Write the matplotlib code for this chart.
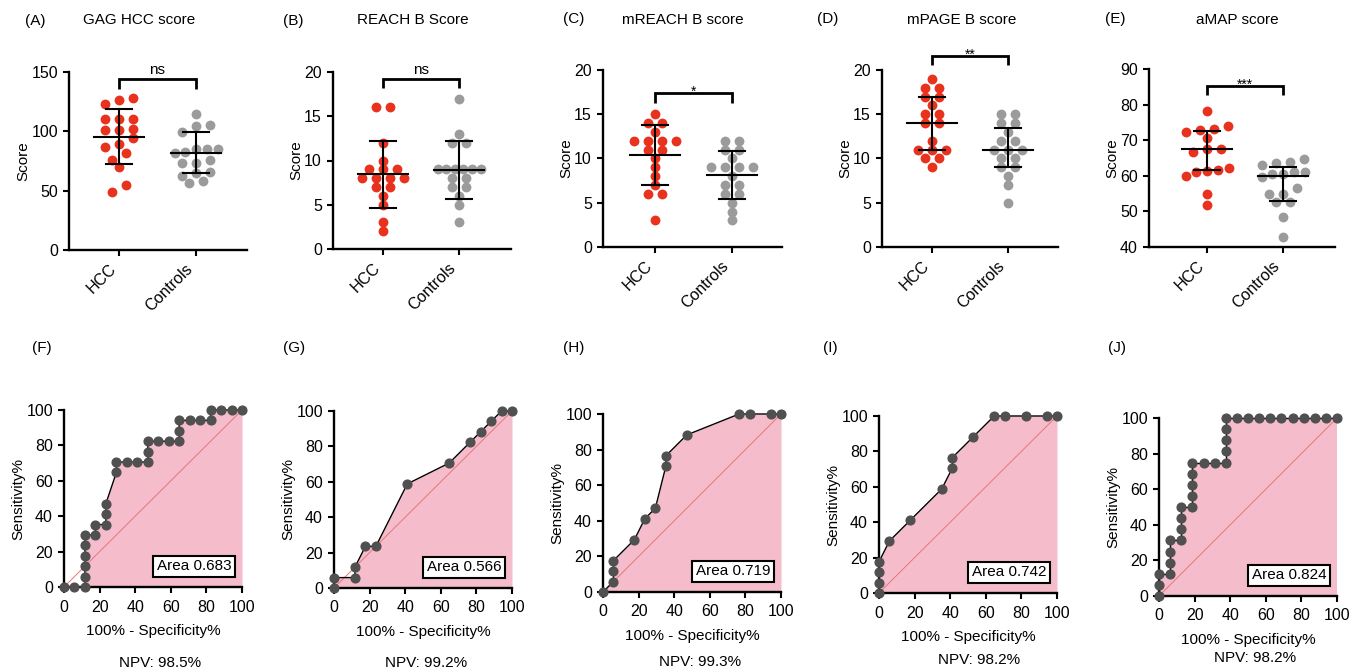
import matplotlib
matplotlib.use("Agg")
from matplotlib import pyplot as plt
import numpy as np

plt.rcParams["font.family"] = ["Liberation Sans", "DejaVu Sans"]
plt.rcParams["font.size"] = 11

W, H = 1358, 671
RED = "#E8321E"
GREY = "#9B9B9B"
PINK = "#F5BCCB"
DOT = "#505050"
DIAG = "#E8767A"

groups = ["HCC", "Controls"]

# top row: individual scores per group
gag_hcc = [128.3, 126.6, 123.2, 110.8, 110.8, 110.2, 102.3, 100.9, 100.9, 94.2, 89.0, 87.0, 82.0, 76.0, 70.0, 55.0, 49.0]
gag_ctrl = [114.7, 105.7, 104.6, 99.5, 85.2, 85.0, 84.8, 82.5, 82.0, 75.5, 73.4, 73.0, 65.5, 65.0, 62.0, 58.0, 56.5]
reach_hcc = [16, 16, 12, 10, 9, 9, 9, 8, 8, 8, 8, 7, 7, 6, 5, 3, 2]
reach_ctrl = [17, 13, 12, 12, 9, 9, 9, 9, 9, 9, 8, 8, 7, 7, 6, 5, 3]
mreach_hcc = [15, 14, 14, 13, 12, 12, 12, 12, 11, 11, 10, 9, 8, 7, 6, 6, 3]
mreach_ctrl = [12, 12, 11, 11, 10, 9, 9, 9, 9, 8, 7, 7, 6, 6, 5, 4, 3]
mpage_hcc = [19, 18, 18, 17, 17, 16, 15, 15, 14, 14, 12, 11, 11, 11, 10, 10, 9]
mpage_ctrl = [15, 15, 14, 14, 13, 12, 12, 11, 11, 11, 10, 10, 9, 9, 8, 7, 5]
amap_hcc = [78.3, 74.0, 73.1, 72.9, 72.3, 70.5, 67.5, 67.5, 66.8, 62.1, 61.6, 61.3, 61.0, 59.9, 54.8, 51.7]
amap_ctrl = [64.7, 63.9, 63.7, 63.0, 61.0, 61.0, 60.5, 60.4, 59.7, 56.6, 55.0, 54.9, 52.5, 52.5, 48.3, 42.8]

# centre line and bars (centre, low, high) for HCC / Controls
gag_stats = [(95.6, 72.2, 118.4), (81.8, 64.6, 99.5)]
reach_stats = [(8.42, 4.67, 12.15), (8.94, 5.7, 12.2)]
mreach_stats = [(10.4, 7.0, 13.8), (8.1, 5.4, 10.8)]
mpage_stats = [(14.0, 11.0, 17.0), (11.0, 9.0, 13.5)]
amap_stats = [(67.6, 61.6, 72.7), (59.9, 53.0, 62.4)]

score_titles = ["GAG HCC score", "REACH B Score", "mREACH B score", "mPAGE B score", "aMAP score"]
score_letters = ["(A)", "(B)", "(C)", "(D)", "(E)"]
sig_marks = ["ns", "ns", "*", "**", "***"]

# bottom row: ROC curves (100% - specificity, sensitivity)
roc_f_x = [0, 5.88, 11.76, 11.76, 11.76, 11.76, 11.76, 11.76, 17.65, 17.65, 23.53, 23.53, 23.53, 29.41, 29.41, 35.29,
           41.18, 47.06, 47.06, 47.06, 52.94, 58.82, 64.71, 64.71, 64.71, 70.59, 76.47, 82.35, 82.35, 88.24, 94.12, 100]
roc_f_y = [0, 0, 0, 5.88, 11.76, 17.65, 23.53, 29.41, 29.41, 35.29, 35.29, 41.18, 47.06, 64.71, 70.59, 70.59,
           70.59, 70.59, 76.47, 82.35, 82.35, 82.35, 82.35, 88.24, 94.12, 94.12, 94.12, 94.12, 100, 100, 100, 100]
roc_g_x = [0, 0, 11.76, 11.76, 17.65, 23.53, 41.18, 64.71, 76.47, 82.35, 88.24, 94.12, 100]
roc_g_y = [0, 5.88, 5.88, 11.76, 23.53, 23.53, 58.82, 70.59, 82.35, 88.24, 94.12, 100, 100]
roc_h_x = [0, 5.88, 5.88, 5.88, 17.65, 23.53, 29.41, 35.29, 35.29, 47.06, 76.47, 82.35, 94.12, 100]
roc_h_y = [0, 5.88, 11.76, 17.65, 29.41, 41.18, 47.06, 70.59, 76.47, 88.24, 100, 100, 100, 100]
roc_i_x = [0, 0, 0, 0, 5.88, 17.65, 35.29, 41.18, 41.18, 52.94, 64.71, 70.59, 82.35, 94.12, 100]
roc_i_y = [0, 5.88, 11.76, 17.65, 29.41, 41.18, 58.82, 70.59, 76.47, 88.24, 100, 100, 100, 100, 100]
roc_j_x = [0, 0, 0, 6.25, 6.25, 6.25, 6.25, 12.5, 12.5, 12.5, 12.5, 18.75, 18.75, 18.75, 18.75, 18.75, 25, 31.25,
           37.5, 37.5, 37.5, 37.5, 37.5, 43.75, 50, 56.25, 62.5, 68.75, 75, 81.25, 87.5, 93.75, 100]
roc_j_y = [0, 6.25, 12.5, 12.5, 18.75, 25, 31.25, 31.25, 37.5, 43.75, 50, 50, 56.25, 62.5, 68.75, 75, 75, 75,
           75, 81.25, 87.5, 93.75, 100, 100, 100, 100, 100, 100, 100, 100, 100, 100, 100]

roc_letters = ["(F)", "(G)", "(H)", "(I)", "(J)"]
auc_labels = ["0.683", "0.566", "0.719", "0.742", "0.824"]
npv_labels = ["98.5%", "99.2%", "99.3%", "98.2%", "98.2%"]


def swarm(values, ppu, ppc, row_px=8.7, step_px=14.3, max_px=43):
    # spread near-equal values sideways, GraphPad style
    vals = np.asarray(values, float)
    order = np.argsort(-vals, kind="stable")
    offs = np.zeros(len(vals))
    rows, cur = [], []
    for i in order:
        if cur and (vals[cur[0]] - vals[i]) * ppu >= row_px:
            rows.append(cur)
            cur = []
        cur.append(i)
    rows.append(cur)
    for row in rows:
        n = len(row)
        if n == 1:
            continue
        row = sorted(row, key=lambda i: vals[i])
        step = min(step_px, max_px / (n - 1))
        for k, i in enumerate(row):
            offs[i] = (k - (n - 1) / 2) * step / ppc
    return offs


def style_axes(ax):
    for s in ["top", "right"]:
        ax.spines[s].set_visible(False)
    for s in ["left", "bottom"]:
        ax.spines[s].set_linewidth(1.7)
    ax.tick_params(direction="out", length=4.5, width=1.5, labelsize=11.5)


fig = plt.figure(figsize=(W / 100, H / 100), dpi=100)

# layout in pixels: left, right, top, bottom, hcc x, controls x
top_px = [(69, 247, 72, 250, 119, 196), (333, 511, 72, 249, 383, 459), (603, 782, 70, 247, 655, 732),
          (882, 1058, 70, 247, 932, 1008), (1149, 1335, 69, 247, 1207, 1283)]
top_ylim = [(0, 150), (0, 20), (0, 20), (0, 20), (40, 90)]
top_ticks = [[0, 50, 100, 150], [0, 5, 10, 15, 20], [0, 5, 10, 15, 20], [0, 5, 10, 15, 20], [40, 50, 60, 70, 80, 90]]
brackets = [(135.7, 144.1), (18.2, 19.2), (16.3, 17.4), (20.6, 21.6), (82.7, 85.2)]
letter_pos = [(25, 21), (283, 21), (563, 19), (817, 19), (1105, 19)]
title_x = [139, 413, 683, 962, 1237]

score_sets = [(gag_hcc, gag_ctrl, gag_stats), (reach_hcc, reach_ctrl, reach_stats),
              (mreach_hcc, mreach_ctrl, mreach_stats), (mpage_hcc, mpage_ctrl, mpage_stats),
              (amap_hcc, amap_ctrl, amap_stats)]

for p, (hcc, ctrl, stats) in enumerate(score_sets):
    left, right, top, bottom, hx, cx = top_px[p]
    ax = fig.add_axes([left / W, 1 - bottom / H, (right - left) / W, (bottom - top) / H])
    d = cx - hx
    ax.set_xlim((left - hx) / d, 1 + (right - cx) / d)
    lo_y, hi_y = top_ylim[p]
    ax.set_ylim(lo_y, hi_y)
    ppu = (bottom - top) / (hi_y - lo_y)
    for k, (vals, col) in enumerate([(hcc, RED), (ctrl, GREY)]):
        offs = swarm(vals, ppu, d)
        ax.scatter(k + offs, vals, s=50, color=col, linewidths=0, zorder=2, clip_on=False)
        c, lo, hi = stats[k]
        ax.plot([k - 25 / d, k + 25 / d], [c, c], color="black", lw=1.5, zorder=3)
        ax.plot([k, k], [lo, hi], color="black", lw=1.5, zorder=3)
        for v in (lo, hi):
            ax.plot([k - 13 / d, k + 13 / d], [v, v], color="black", lw=1.5, zorder=3)
    leg, bar = brackets[p]
    ax.plot([0, 0, 1, 1], [leg, bar, bar, leg], color="black", lw=2, clip_on=False,
            solid_joinstyle="miter", solid_capstyle="butt")
    mark = sig_marks[p]
    if mark == "ns":
        ax.annotate(mark, (0.5, bar), xytext=(0, 3.5), textcoords="offset points",
                    ha="center", va="baseline", fontsize=11, annotation_clip=False)
    else:
        ax.annotate(mark, (0.5, bar), xytext=(0, -2), textcoords="offset points",
                    ha="center", va="baseline", fontsize=10, annotation_clip=False)
    style_axes(ax)
    ax.set_yticks(top_ticks[p])
    ax.set_xticks([0, 1])
    ax.set_xticklabels(groups, rotation=45, ha="right")
    ax.set_ylabel("Score", labelpad=0.5)
    fig.text(letter_pos[p][0] / W, 1 - letter_pos[p][1] / H, score_letters[p], ha="left", va="center")
    fig.text(title_x[p] / W, 1 - 20 / H, score_titles[p], ha="center", va="center")

# layout in pixels: x at 0, x at 100, y at 100, y at 0
roc_px = [(64, 242, 410, 587), (334, 512, 411, 588), (603, 781, 414, 592), (879, 1057, 416, 593),
          (1159, 1337, 418, 596)]
roc_letter_pos = [(32, 348), (283, 348), (563, 348), (823, 348), (1108, 348)]
npv_pos = [(160, 663), (426, 663), (700, 662), (979, 660), (1255, 658)]
roc_sets = [(roc_f_x, roc_f_y), (roc_g_x, roc_g_y), (roc_h_x, roc_h_y), (roc_i_x, roc_i_y), (roc_j_x, roc_j_y)]

for p, (xs, ys) in enumerate(roc_sets):
    x0, x1, y1, y0 = roc_px[p]
    ax = fig.add_axes([x0 / W, 1 - y0 / H, (x1 - x0) / W, (y0 - y1) / H])
    ax.set_xlim(0, 100)
    ax.set_ylim(0, 100)
    ax.fill_between(xs, ys, 0, color=PINK, lw=0, zorder=1)
    ax.plot([0, 100], [0, 100], color=DIAG, lw=0.7, zorder=2)
    ax.plot(xs, ys, color="black", lw=1, zorder=3, marker="o", ms=6.3, mfc=DOT, mec=DOT, clip_on=False)
    ax.text(0.94, 0.077, "Area " + auc_labels[p], transform=ax.transAxes, ha="right", va="bottom",
            fontsize=11, zorder=5,
            bbox=dict(boxstyle="square,pad=0.22", fc="white", ec="black", lw=1.5))
    style_axes(ax)
    ax.tick_params(axis="x", pad=4.5)
    ax.set_xticks([0, 20, 40, 60, 80, 100])
    ax.set_yticks([0, 20, 40, 60, 80, 100])
    ax.set_ylabel("Sensitivity%", labelpad=1)
    ax.set_xlabel("100% - Specificity%", labelpad=6.5)
    fig.text(roc_letter_pos[p][0] / W, 1 - roc_letter_pos[p][1] / H, roc_letters[p], ha="left", va="center")
    fig.text(npv_pos[p][0] / W, 1 - npv_pos[p][1] / H, "NPV: " + npv_labels[p], ha="center", va="center")

fig.savefig("out.png", dpi=100)
